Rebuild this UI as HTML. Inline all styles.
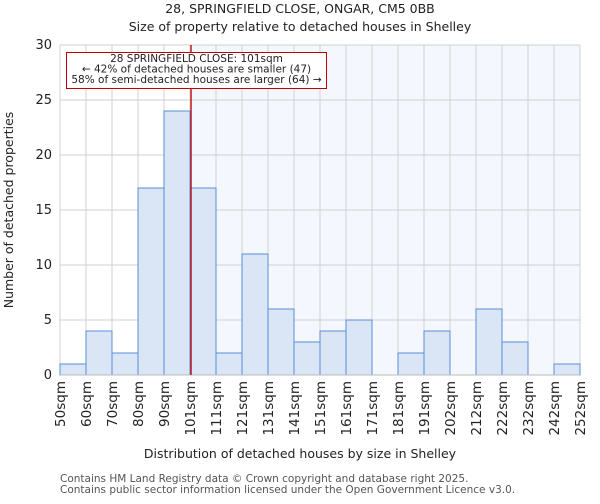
<!DOCTYPE html>
<html><head><meta charset="utf-8"><style>
body{margin:0;background:#fff;font-family:"DejaVu Sans","Liberation Sans",sans-serif;}
svg text{font-family:"DejaVu Sans","Liberation Sans",sans-serif;fill:#222;}
</style></head><body>
<svg id="c" width="600" height="500" xmlns="http://www.w3.org/2000/svg">
<text x="300" y="13" text-anchor="middle" font-size="12.5">28, SPRINGFIELD CLOSE, ONGAR, CM5 0BB</text>
<text x="300" y="31" text-anchor="middle" font-size="12.5">Size of property relative to detached houses in Shelley</text>
<g id="plot"></g>
<text x="300" y="458" text-anchor="middle" font-size="12.5">Distribution of detached houses by size in Shelley</text>
<text transform="translate(13,210) rotate(-90)" text-anchor="middle" font-size="12.5">Number of detached properties</text>
<text x="60" y="482" font-size="10.5" style="fill:#555">Contains HM Land Registry data © Crown copyright and database right 2025.</text>
<text x="60" y="493" font-size="10.5" style="fill:#555">Contains public sector information licensed under the Open Government Licence v3.0.</text>
</svg>
<script>
const labels=["50sqm","60sqm","70sqm","80sqm","90sqm","101sqm","111sqm","121sqm","131sqm","141sqm","151sqm","161sqm","171sqm","181sqm","191sqm","202sqm","212sqm","222sqm","232sqm","242sqm","252sqm"];
const counts=[1,4,2,17,24,17,2,11,6,3,4,5,0,2,4,0,6,3,0,1];
const yTicks=[0,5,10,15,20,25,30];
const markerPos=5.04;
const NS="http://www.w3.org/2000/svg";
const x0=60,x1=580,y0=375,y1=45,yMax=30;
const bw=(x1-x0)/counts.length;
const X=i=>x0+i*bw, Y=v=>y0-(v/yMax)*(y0-y1);
const g=document.getElementById('plot');
function mk(t,a){const e=document.createElementNS(NS,t);for(const k in a)e.setAttribute(k,a[k]);g.appendChild(e);return e;}
const mx=X(markerPos);
let e=mk('rect',{x:mx,y:y1,width:x1-mx,height:y0-y1,fill:'#f4f7fd'});


yTicks.forEach(t=>{
 const l=mk('line',{x1:x0,x2:x1,y1:Y(t),y2:Y(t),stroke:'#d0d0d0','stroke-width':1});
 
 
 const tx=mk('text',{x:x0-8,y:Y(t)+4,'text-anchor':'end','font-size':13});
 tx.textContent=t;
 
 
});
labels.forEach((s,i)=>{
 const l=mk('line',{x1:X(i),x2:X(i),y1:y1,y2:y0,stroke:'#d0d0d0','stroke-width':1});
 
 
 const tx=mk('text',{transform:`translate(${X(i)+5},${y0+6}) rotate(-90)`,'text-anchor':'end','font-size':13.5});
 tx.textContent=s;
 
 
});
counts.forEach((v,i)=>{
 if(v<=0)return;
 const r=mk('rect',{x:X(i),y:Y(v),width:bw,height:y0-Y(v),fill:'#dae5f5',stroke:'#5b8fd6','stroke-width':1});
 
 
});
e=mk('line',{x1:x0,x2:x1,y1:y0,y2:y0,stroke:'#bbb','stroke-width':1});


e=mk('line',{x1:mx,x2:mx,y1:y1,y2:y0,stroke:'#c00000','stroke-width':1.3});


e=mk('rect',{x:66.5,y:52.5,width:260,height:36,fill:'#fff',stroke:'#c00000','stroke-width':1});


["28 SPRINGFIELD CLOSE: 101sqm","← 42% of detached houses are smaller (47)","58% of semi-detached houses are larger (64) →"].forEach((s,k)=>{
 const t=mk('text',{x:196.5,y:62+k*10.5,'text-anchor':'middle','font-size':10.5});
 t.textContent=s;
 
 
});
</script>
</body></html>
